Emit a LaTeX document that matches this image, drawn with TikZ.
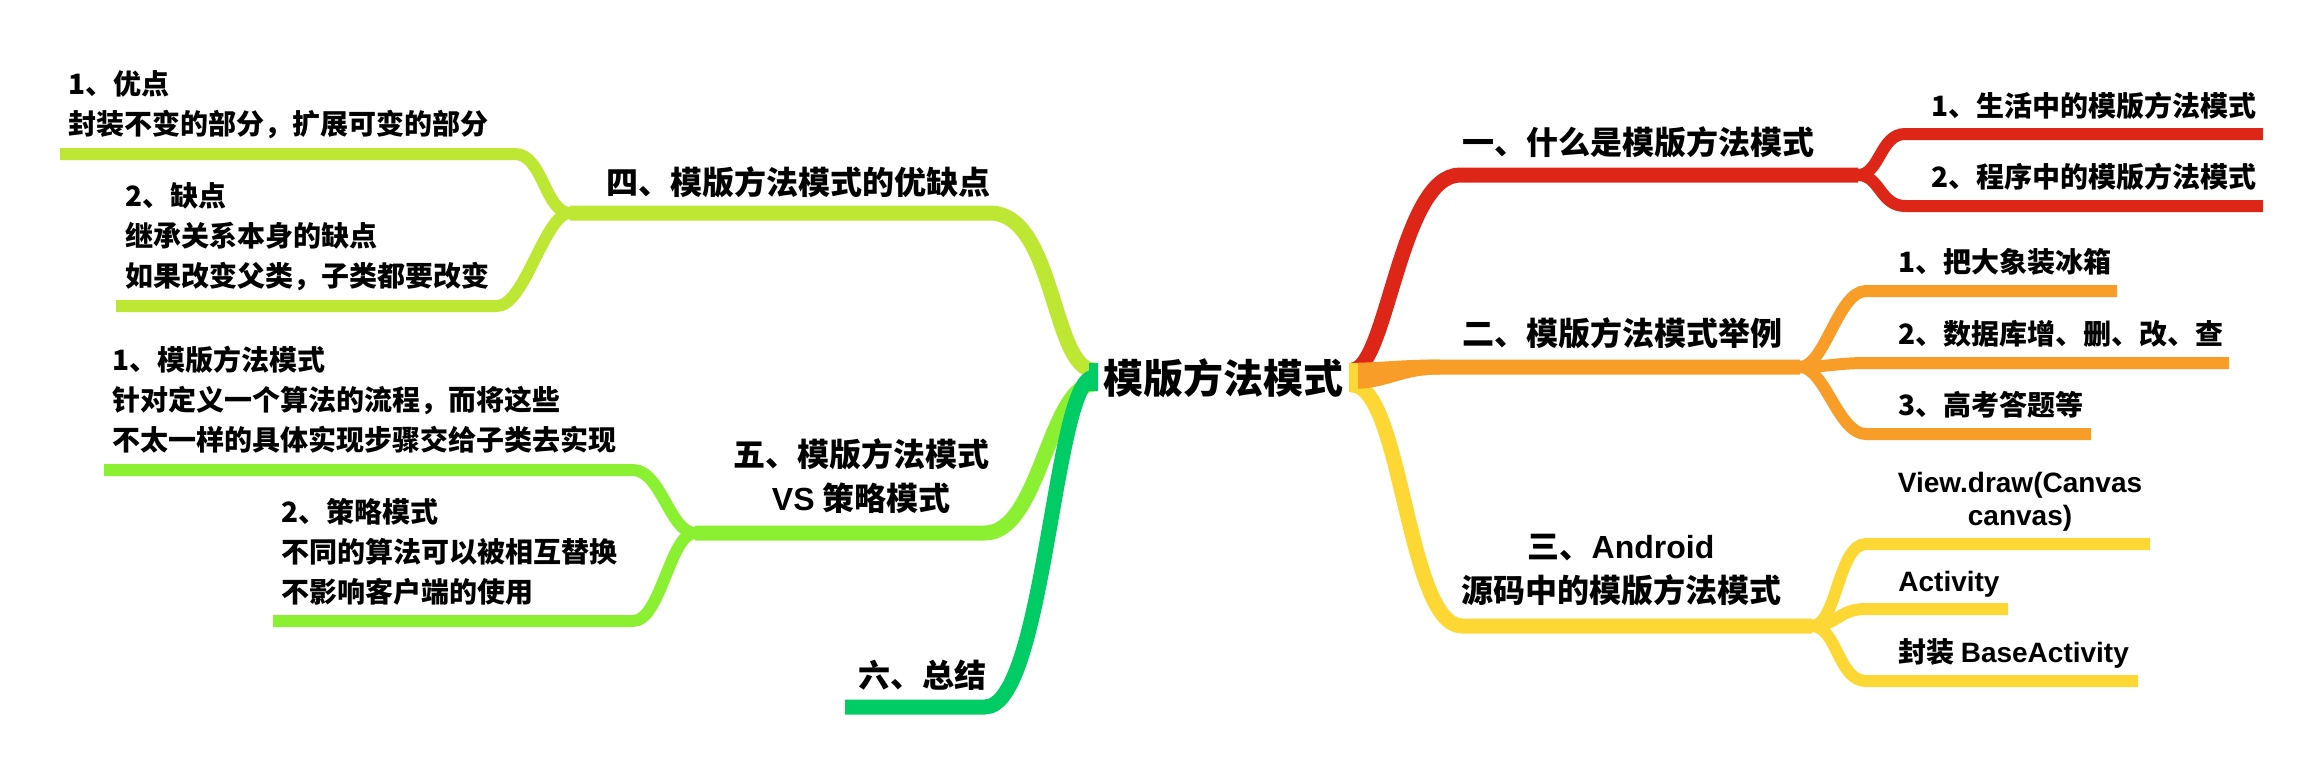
\documentclass[tikz,border=0pt]{standalone}
\usepackage{fontspec}
\setmainfont{Noto Sans CJK SC}
\newfontfamily\latin{Liberation Sans}
\usepackage{tikz}
\definecolor{brred}{HTML}{DE2618}
\definecolor{brorange}{HTML}{F99D29}
\definecolor{bryellow}{HTML}{FDD835}
\definecolor{brlime}{HTML}{BDE733}
\definecolor{brgreen}{HTML}{8CF032}
\definecolor{brdark}{HTML}{00CC66}

\begin{document}
\begin{tikzpicture}[x=0.5pt,y=-0.5pt,
		rootlabel/.style={font=\fontsize{20}{24}\selectfont\bfseries, inner sep=0pt},
		toplabel/.style={font=\fontsize{16}{22}\selectfont\bfseries, inner sep=0pt, align=center},
		leaflabel/.style={font=\fontsize{14}{20}\selectfont\bfseries, inner sep=0pt, align=left, anchor=west},
		mainbr/.style={line width=7.5pt, line cap=butt, line join=round},
		leafbr/.style={line width=6pt, line cap=butt, line join=round}]
		%%%%% START %%%%%
		\useasboundingbox (0,0) rectangle (2320,760);
		
		\node[rootlabel] (root) at (1223,378) {模版方法模式};
		
		% right side
		\coordinate (r1s) at (1352,370);
		\coordinate (r1h) at (1460,175);
		\coordinate (r1j) at (1858,175);
		\coordinate (r11s) at (1905,134);
		\coordinate (r11e) at (2263,134);
		\coordinate (r12s) at (1905,206);
		\coordinate (r12e) at (2263,206);
		
		\coordinate (r2s) at (1352,378);
		\coordinate (r2h) at (1440,367);
		\coordinate (r2j) at (1800,367);
		\coordinate (r21s) at (1866,291);
		\coordinate (r21e) at (2117,291);
		\coordinate (r22s) at (1866,363);
		\coordinate (r22e) at (2229,363);
		\coordinate (r23s) at (1866,434);
		\coordinate (r23e) at (2091,434);
		
		\coordinate (r3s) at (1352,385);
		\coordinate (r3h) at (1462,626);
		\coordinate (r3j) at (1812,626);
		\coordinate (r31s) at (1866,544);
		\coordinate (r31e) at (2150,544);
		\coordinate (r32s) at (1866,609);
		\coordinate (r32e) at (2008,609);
		\coordinate (r33s) at (1866,681);
		\coordinate (r33e) at (2138,681);
		
		% left side
		\coordinate (l1s) at (1094,370);
		\coordinate (l1h) at (990,213);
		\coordinate (l1j) at (570,213);
		\coordinate (l11s) at (515,154);
		\coordinate (l11e) at (60,154);
		\coordinate (l12s) at (497,306);
		\coordinate (l12e) at (116,306);
		
		\coordinate (l2s) at (1094,384);
		\coordinate (l2h) at (985,533);
		\coordinate (l2j) at (695,533);
		\coordinate (l21s) at (633,470);
		\coordinate (l21e) at (104,470);
		\coordinate (l22s) at (633,621);
		\coordinate (l22e) at (273,621);
		
		\coordinate (l3s) at (1094,377);
		\coordinate (l3h) at (985,707);
		\coordinate (l3e) at (845,707);
		
		% branches
		\draw[mainbr, bryellow] (r3s) .. controls +(50,0) and +(-55,0) .. (r3h) -- (r3j);
		\draw[leafbr, bryellow] (r3j) .. controls +(25,0) and +(-28,0) .. (r31s) -- (r31e);
		\draw[leafbr, bryellow] (r3j) .. controls +(25,0) and +(-28,0) .. (r32s) -- (r32e);
		\draw[leafbr, bryellow] (r3j) .. controls +(25,0) and +(-28,0) .. (r33s) -- (r33e);
		
		\draw[mainbr, brred] (r1s) .. controls +(35,0) and +(-60,0) .. (r1h) -- (r1j);
		\draw[leafbr, brred] (r1j) .. controls +(22,0) and +(-25,0) .. (r11s) -- (r11e);
		\draw[leafbr, brred] (r1j) .. controls +(22,0) and +(-25,0) .. (r12s) -- (r12e);
		
		\fill[brorange] (1350,363) .. controls (1390,362) and (1400,359.5) .. (1440,359.5)
			-- (1440,374.5) .. controls (1400,374.5) and (1390,389) .. (1350,389) -- cycle;
		\draw[mainbr, brorange] (r2s) .. controls +(40,0) and +(-40,0) .. (r2h) -- (r2j);
		\draw[leafbr, brorange] (r2j) .. controls +(25,0) and +(-28,0) .. (r21s) -- (r21e);
		\draw[leafbr, brorange] (r2j) .. controls +(25,0) and +(-28,0) .. (r22s) -- (r22e);
		\draw[leafbr, brorange] (r2j) .. controls +(25,0) and +(-28,0) .. (r23s) -- (r23e);
		
		\draw[mainbr, brlime] (l1s) .. controls +(-42,0) and +(65,0) .. (l1h) -- (l1j);
		\draw[leafbr, brlime] (l1j) .. controls +(-25,0) and +(28,0) .. (l11s) -- (l11e);
		\draw[leafbr, brlime] (l1j) .. controls +(-25,0) and +(28,0) .. (l12s) -- (l12e);
		
		\draw[mainbr, brgreen] (l2s) .. controls +(-45,0) and +(55,0) .. (l2h) -- (l2j);
		\draw[leafbr, brgreen] (l2j) .. controls +(-25,0) and +(28,0) .. (l21s) -- (l21e);
		\draw[leafbr, brgreen] (l2j) .. controls +(-25,0) and +(28,0) .. (l22s) -- (l22e);
		
		\draw[mainbr, brdark] (l3s) .. controls +(-40,0) and +(60,0) .. (l3h) -- (l3e);
		
		\fill[brdark] (1089,363) rectangle (1098,391);
		\fill[bryellow] (1349,363) rectangle (1358,392);
		
		% labels
		\node[toplabel, anchor=west] (t1) at (1462,142) {一、什么是模版方法模式};
		\node[toplabel, anchor=west] (t2) at (1462,333) {二、模版方法模式举例};
		\node[toplabel] (t3) at (1621,570) {三、{\latin Android}\\源码中的模版方法模式};
		\node[toplabel, anchor=west] (t4) at (606,182) {四、模版方法模式的优缺点};
		\node[toplabel] (t5) at (861,476) {五、模版方法模式\\{\latin VS} 策略模式};
		\node[toplabel, anchor=west] (t6) at (858,675) {六、总结};
		
		\node[leaflabel] (n11) at (1931,106) {1、生活中的模版方法模式};
		\node[leaflabel] (n12) at (1931,177) {2、程序中的模版方法模式};
		\node[leaflabel] (n21) at (1898,262) {1、把大象装冰箱};
		\node[leaflabel] (n22) at (1898,334) {2、数据库增、删、改、查};
		\node[leaflabel] (n23) at (1898,405) {3、高考答题等};
		\node[leaflabel, anchor=center, align=center, font=\fontsize{14}{16.5}\selectfont\bfseries\latin] (n31) at (2020,502) {View.draw(Canvas\\canvas)};
		\node[leaflabel, font=\fontsize{14}{20}\selectfont\bfseries\latin] (n32) at (1898,584) {Activity};
		\node[leaflabel] (n33) at (1898,653) {封装 {\latin BaseActivity}};
		
		\node[leaflabel] (n41) at (68,105) {1、优点\\封装不变的部分，扩展可变的部分};
		\node[leaflabel] (n42) at (125,237) {2、缺点\\继承关系本身的缺点\\如果改变父类，子类都要改变};
		\node[leaflabel] (n51) at (112,400) {1、模版方法模式\\针对定义一个算法的流程，而将这些\\不太一样的具体实现步骤交给子类去实现};
		\node[leaflabel] (n52) at (281,552) {2、策略模式\\不同的算法可以被相互替换\\不影响客户端的使用};
		%%%%% END %%%%%
\end{tikzpicture}
\end{document}
